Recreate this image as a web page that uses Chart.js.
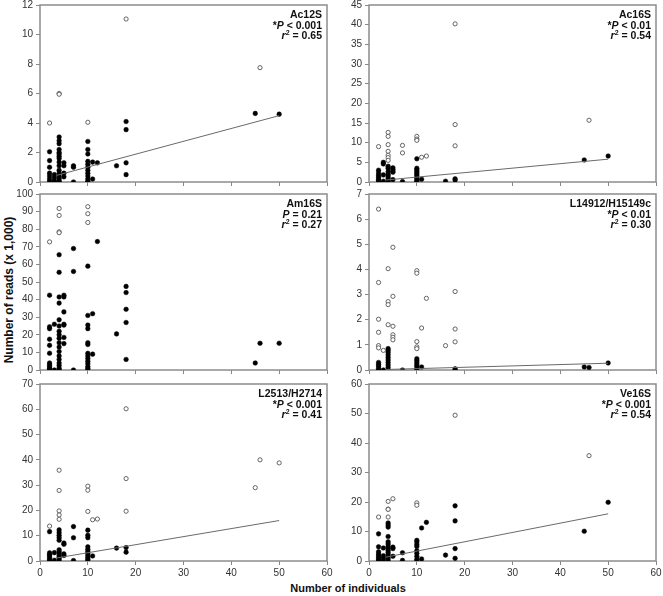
<!DOCTYPE html>
<html>
<head>
<meta charset="utf-8">
<script src="https://cdn.jsdelivr.net/npm/chart.js@4.4.1/dist/chart.umd.min.js"></script>
<style>
body { margin: 0; background: #fff; }
#fig { position: relative; width: 663px; height: 596px; background: #fff; font-family: "Liberation Sans", Arial, sans-serif; overflow: hidden; }
#fig canvas { position: absolute; }
.note { position: absolute; width: 160px; text-align: right; font-weight: bold; font-size: 10.5px; line-height: 10.5px; color: #111; }
.note sup { font-size: 7px; line-height: 0; vertical-align: 4px; }
#ytitle { position: absolute; left: -91px; top: 283px; width: 200px; text-align: center; font-weight: bold; font-size: 12px; transform: rotate(-90deg); color: #111; }
#xtitle { position: absolute; left: 248px; top: 582px; width: 200px; text-align: center; font-weight: bold; font-size: 11px; color: #111; }
</style>
</head>
<body>
<div id="fig">
  <div id="ytitle">Number of reads (x 1,000)</div>
  <div id="xtitle">Number of individuals</div>
</div>
<script>
// x values shared by all panels
const xTicks = [0, 60, 10];

// each column: [number of individuals, [reads x 1000 ...]]
const ac12sSolid = [
	[2, [2.05, 1.45, 1.0, 0.6, 0.4, 0.2, 0.05]],
	[3, [0.5, 0.3, 0.1, 0]],
	[4, [3.05, 2.8, 2.6, 2.2, 2.0, 1.9, 1.75, 1.6, 1.35, 1.1, 0.8, 0.6, 0.4, 0.25, 0.1, 0]],
	[5, [1.3, 1.1, 0.6, 0.35]],
	[7, [1.1, 1.0, 0]],
	[10, [2.75, 2.2, 1.9, 1.4, 1.2, 1.0, 0.8, 0.6, 0.4, 0.2, 0.05, 0]],
	[11, [1.35, 0.2]],
	[12, [1.3]],
	[16, [1.1]],
	[18, [4.1, 3.55, 1.3, 0.5]],
	[45, [4.65]],
	[50, [4.6]]
];
const ac12sOpen = [[2, [4.0]], [4, [6.0, 5.95]], [10, [4.05]], [18, [11.05]], [46, [7.75]]];
const ac12sFit = [[3.5, 0.45], [50, 4.5]];

const ac16sSolid = [
	[2, [3.0, 2.3, 1.7, 1.2, 0.7, 0.3, 0]],
	[3, [5.0, 4.6, 1.8, 0.2]],
	[4, [4.0, 3.5, 2.6, 2.0, 1.5, 1.0, 0.5, 0.1]],
	[5, [3.6, 3.2, 2.8, 2.5, 0.6]],
	[7, [0.1]],
	[10, [5.9, 3.5, 3.1, 2.7, 2.3, 1.9, 1.5, 1.0, 0.6, 0.2, 0]],
	[11, [0.7]],
	[16, [0.2]],
	[18, [0.8, 0.5]],
	[45, [5.6]],
	[50, [6.6]]
];
const ac16sOpen = [[2, [9.0]], [4, [12.6, 11.6, 9.5, 7.8, 6.8, 6.2, 5.5]], [7, [9.3, 7.4]], [10, [11.6, 10.9, 10.6]], [11, [6.3]], [12, [6.6]], [18, [40.2, 14.6, 9.2]], [46, [15.7]]];
const ac16sFit = [[3.5, 0.5], [50, 5.8]];

const am16sSolid = [
	[2, [42.5, 24.5, 23.5, 17.5, 14, 9.5, 4, 3, 2, 1, 0.5]],
	[3, [26, 0]],
	[4, [65.5, 55.5, 41.5, 38, 28.5, 25, 22, 20, 18, 15.5, 13, 10.5, 8, 6, 4, 2.5, 1, 0]],
	[5, [42.5, 41.5, 33, 26, 25.5, 18.5, 15]],
	[7, [69, 56, 0]],
	[10, [59, 31, 25.5, 23.5, 15.5, 14.5, 9.5, 8, 6.5, 5, 3.5, 2, 1, 0]],
	[11, [32, 9]],
	[12, [73]],
	[16, [20.5]],
	[18, [47.5, 44, 34.5, 27, 6]],
	[45, [4]],
	[46, [15.2]],
	[50, [15.2]]
];
const am16sOpen = [[2, [72.8]], [4, [91.8, 87.8, 78.5, 78.0]], [10, [92.8, 88.8, 83.8]]];
const am16sFit = [];

const l14912Solid = [
	[2, [0.3, 0.22, 0.15, 0.05, 0]],
	[3, [0]],
	[4, [0.85, 0.78, 0.7, 0.6, 0.5, 0.4, 0.3, 0.2, 0.1, 0]],
	[7, [0]],
	[10, [0.45, 0.38, 0.3, 0.22, 0.15, 0.05, 0]],
	[11, [0.12]],
	[18, [0.05, 0]],
	[45, [0.12]],
	[46, [0.1]],
	[50, [0.28]]
];
const l14912Open = [
	[2, [6.4, 3.48, 2.02, 1.5, 0.97, 0.88]],
	[3, [0.78]],
	[4, [4.03, 2.72, 2.6, 1.8]],
	[5, [4.88, 2.93, 1.74, 1.4, 1.3, 1.2]],
	[10, [3.95, 3.85, 1.13, 0.92, 0.85]],
	[11, [1.67]],
	[12, [2.85]],
	[16, [0.97]],
	[18, [3.12, 1.63, 1.12]]
];
const l14912Fit = [[3.5, 0.02], [50, 0.27]];

const l2513Solid = [
	[2, [11.6, 3.2, 2.6, 2.0, 1.3, 0.6, 0]],
	[3, [3.3, 0.3]],
	[4, [12.3, 11.2, 10.2, 9.2, 8.2, 4.4, 3.7, 3.0, 2.2, 1.5, 0.8, 0]],
	[5, [7.1, 6.6, 2.8, 2.2]],
	[7, [13.6, 9.2, 0.2]],
	[10, [12.2, 10.2, 9.2, 5.6, 4.6, 3.8, 3.0, 2.2, 1.4, 0.7, 0]],
	[11, [2.0]],
	[16, [5.1]],
	[18, [5.3, 3.5]]
];
const l2513Open = [[2, [13.8]], [4, [35.9, 27.9, 19.8, 18.2, 16.5]], [10, [29.6, 28.0, 19.6]], [11, [16.3]], [12, [16.6]], [18, [60.2, 32.6, 19.7]], [45, [29.0]], [46, [40.0]], [50, [38.8]]];
const l2513Fit = [[3.5, 1.2], [50, 16.0]];

const ve16sSolid = [
	[2, [9.2, 4.8, 3.1, 2.4, 1.8, 1.2, 0.6, 0]],
	[3, [4.4, 1.8, 1.0, 0.3]],
	[4, [12.9, 12.2, 11.5, 8.3, 6.5, 5.8, 5.0, 4.3, 3.6, 2.9, 2.2, 1.5, 0.8, 0]],
	[5, [4.7, 4.2, 1.6]],
	[7, [2.8, 0.2]],
	[10, [7.0, 6.4, 5.6, 4.9, 3.5, 2.6, 1.6, 0.6, 0]],
	[11, [11.2, 0.7]],
	[12, [13.1]],
	[16, [2.0]],
	[18, [18.7, 13.6, 4.2, 0.9]],
	[45, [10.1]],
	[50, [19.9]]
];
const ve16sOpen = [[2, [14.9]], [4, [20.2, 17.6, 17.5, 14.9]], [5, [21.1]], [10, [19.7, 18.9]], [18, [49.4]], [46, [35.7]]];
const ve16sFit = [[3.5, 1.3], [50, 16.0]];

// panel labels and y axis ranges [max, step]
const panelNames = ['Ac12S', 'Ac16S', 'Am16S', 'L14912/H15149c', 'L2513/H2714', 'Ve16S'];
const pStars = ['*', '*', '', '*', '*', '*'];
const pSigns = ['<', '<', '=', '<', '<', '<'];
const pValues = ['0.001', '0.01', '0.21', '0.01', '0.001', '0.001'];
const r2Values = ['0.65', '0.54', '0.27', '0.30', '0.41', '0.54'];
const yRanges = [[12, 2], [45, 5], [100, 10], [7, 1], [70, 10], [60, 10]];

const solids = [ac12sSolid, ac16sSolid, am16sSolid, l14912Solid, l2513Solid, ve16sSolid];
const opens = [ac12sOpen, ac16sOpen, am16sOpen, l14912Open, l2513Open, ve16sOpen];
const fits = [ac12sFit, ac16sFit, am16sFit, l14912Fit, l2513Fit, ve16sFit];

// canvas boxes
const boxes = [
	{ left: 0, top: 0, w: 336, h: 187, padTop: 5, yW: 40, padR: 9, xH: 5, xLabels: false },
	{ left: 330, top: 0, w: 333, h: 187, padTop: 5, yW: 39, padR: 7, xH: 5, xLabels: false },
	{ left: 0, top: 186, w: 336, h: 189, padTop: 8, yW: 40, padR: 9, xH: 5, xLabels: false },
	{ left: 330, top: 186, w: 333, h: 189, padTop: 8, yW: 39, padR: 7, xH: 5, xLabels: false },
	{ left: 0, top: 376, w: 336, h: 203, padTop: 8, yW: 40, padR: 9, xH: 18, xLabels: true },
	{ left: 330, top: 376, w: 333, h: 203, padTop: 8, yW: 39, padR: 7, xH: 18, xLabels: true }
];

function toPoints(cols) {
	let pts = [];
	cols.forEach((c) => { c[1].forEach((y) => { pts.push({ x: c[0], y: y }); }); });
	return pts;
}

const framePlugin = {
	id: 'frame',
	beforeDatasetsDraw(chart) {
		let a = chart.chartArea;
		let ctx = chart.ctx;
		ctx.save();
		ctx.strokeStyle = '#8c8c8c';
		ctx.lineWidth = 1.5;
		ctx.strokeRect(a.left, a.top, a.right - a.left, a.bottom - a.top);
		ctx.restore();
	}
};

const fig = document.getElementById('fig');

boxes.forEach((b, i) => {
	let canvas = document.createElement('canvas');
	canvas.width = b.w;
	canvas.height = b.h;
	canvas.style.left = b.left + 'px';
	canvas.style.top = b.top + 'px';
	fig.appendChild(canvas);

	let datasets = [];
	if (fits[i].length) {
		datasets.push({
			data: fits[i].map((p) => ({ x: p[0], y: p[1] })),
			showLine: true,
			borderColor: '#6a6a6a',
			borderWidth: 1,
			pointRadius: 0
		});
	}
	datasets.push({
		data: toPoints(opens[i]),
		backgroundColor: '#fff',
		borderColor: '#555',
		borderWidth: 0.9,
		pointRadius: 2.1
	});
	datasets.push({
		data: toPoints(solids[i]),
		backgroundColor: '#000',
		borderColor: '#000',
		borderWidth: 0.5,
		pointRadius: 2.3
	});

	new Chart(canvas, {
		type: 'scatter',
		data: { datasets: datasets },
		plugins: [framePlugin],
		options: {
			responsive: false,
			animation: false,
			layout: { padding: { top: b.padTop, right: b.padR, left: 0, bottom: 0 } },
			plugins: { legend: { display: false }, tooltip: { enabled: false } },
			scales: {
				x: {
					type: 'linear',
					min: xTicks[0],
					max: xTicks[1],
					border: { display: false },
					grid: { drawOnChartArea: false, drawTicks: true, tickLength: 4, color: '#888' },
					ticks: { display: b.xLabels, stepSize: xTicks[2], padding: 2, color: '#333', font: { family: 'Liberation Sans', size: 10 } },
					afterFit: (s) => { s.height = b.xH; s.paddingLeft = 0; s.paddingRight = 0; }
				},
				y: {
					min: 0,
					max: yRanges[i][0],
					border: { display: false },
					grid: { drawOnChartArea: false, drawTicks: true, tickLength: 4, color: '#888' },
					ticks: { stepSize: yRanges[i][1], autoSkip: false, padding: 3, color: '#333', font: { family: 'Liberation Sans', size: 10 } },
					afterFit: (s) => { s.width = b.yW; s.paddingTop = 0; s.paddingBottom = 0; }
				}
			}
		}
	});

	// panel annotation, top right inside the plot
	let note = document.createElement('div');
	note.className = 'note';
	let right = b.left + b.w - b.padR - 5;
	note.style.left = (right - 160) + 'px';
	note.style.top = (b.top + b.padTop + 4) + 'px';
	let sign = pSigns[i] == '<' ? '&lt;' : '=';
	note.innerHTML = panelNames[i] + '<br>' + pStars[i] + '<i>P</i> ' + sign + ' ' + pValues[i] +
		'<br><i>r</i><sup>2</sup> = ' + r2Values[i];
	fig.appendChild(note);
});
</script>
</body>
</html>
